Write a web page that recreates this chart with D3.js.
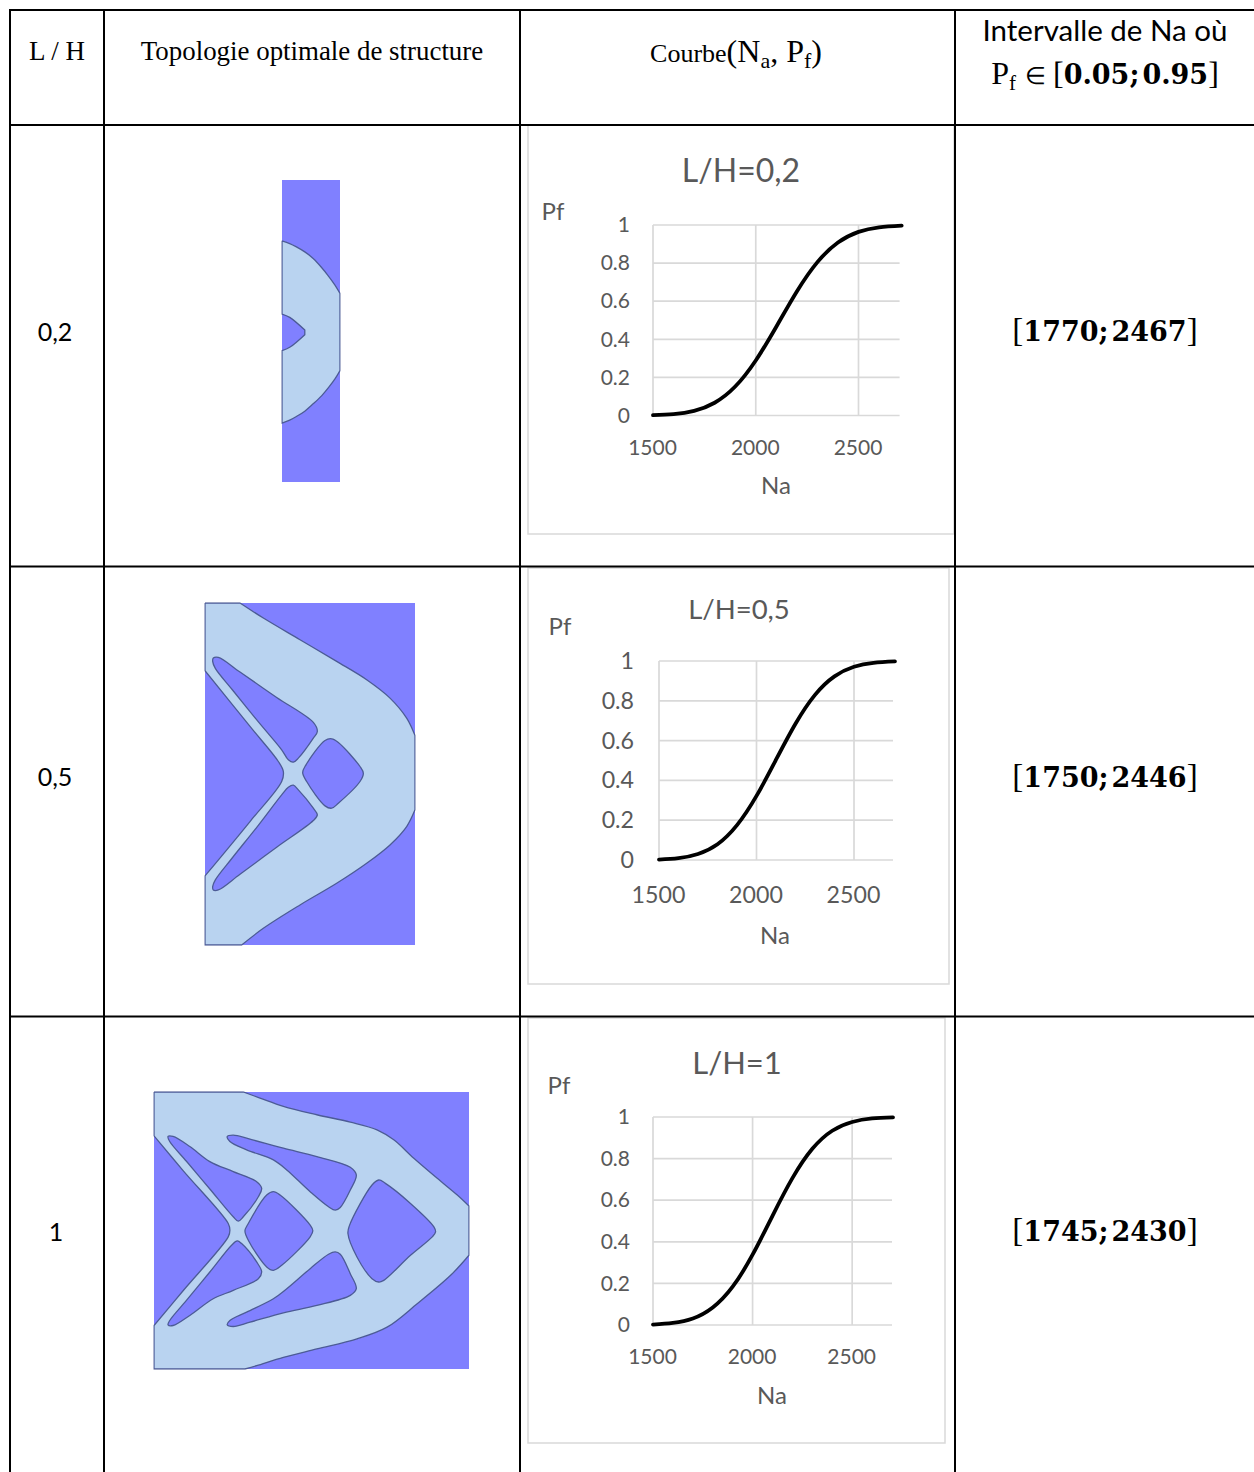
<!DOCTYPE html>
<html><head><meta charset="utf-8">
<script src="https://cdn.jsdelivr.net/npm/d3@7"></script>
<style>html,body{margin:0;padding:0;background:#fff}svg{display:block}</style></head>
<body><div id="c"></div>
<script>
const ratios=["0,2","0,5","1"];
const chartTitles=["L/H=0,2","L/H=0,5","L/H=1"];
const xTicks=[1500,2000,2500];
const yTicks=[0,0.2,0.4,0.6,0.8,1];
const intervalLow=[1770,1750,1745];
const intervalHigh=[2467,2446,2430];
const na1=[1500,1600,1700,1800,1900,2000,2100,2200,2300,2400,2500,2600,2710];
const pf1=[0.002,0.007,0.024,0.067,0.152,0.289,0.466,0.651,0.805,0.908,0.964,0.988,0.997];
const na2=[1500,1600,1700,1800,1900,2000,2100,2200,2300,2400,2500,2600,2710];
const pf2=[0.002,0.009,0.030,0.079,0.175,0.322,0.504,0.685,0.830,0.923,0.971,0.991,0.998];
const na3=[1500,1600,1700,1800,1900,2000,2100,2200,2300,2400,2500,2600,2705];
const pf3=[0.002,0.010,0.031,0.084,0.184,0.338,0.525,0.706,0.847,0.934,0.976,0.993,0.998];

// Structure outlines, each in its own picture coordinates (a repeated point is a sharp corner)
const topo1Solid=[[67,210],[67,210],[90,218],[110,228],[135,243],[160,263],[185,290],[205,315],[225,343],[240,368],[240,368],[240,600],[240,600],[225,625],[205,652],[185,676],[160,700],[135,722],[110,738],[90,749],[67,758],[67,758],[67,540],[67,540],[90,530],[135,492],[135,492],[135,478],[135,478],[90,440],[67,430],[67,430]];
const topo2Solid=[[165,40],[165,40],[270,40],[270,40],[340,85],[450,150],[560,215],[650,270],[720,325],[770,385],[795,437],[795,437],[795,660],[795,660],[770,710],[720,765],[650,820],[560,880],[450,945],[340,1015],[275,1065],[275,1065],[165,1065],[165,1065],[165,858],[165,858],[300,695],[395,575],[400,545],[385,515],[300,410],[165,243],[165,243]];
const topo2Holes=[
 [[190,205],[205,203],[270,247],[380,323],[490,398],[502,425],[490,445],[445,505],[430,517],[415,510],[395,480],[324,395],[247,300],[196,236],[188,215]],
 [[525,452],[545,447],[565,458],[630,530],[640,550],[630,575],[565,640],[545,655],[525,648],[470,575],[458,548],[468,525]],
 [[190,900],[205,900],[270,853],[380,772],[490,692],[502,675],[490,655],[445,600],[430,586],[415,592],[395,615],[322,710],[246,805],[196,870],[188,890]]
];
const topo3Solid=[[13,37],[13,37],[280,37],[280,37],[330,55],[400,80],[500,105],[600,127],[680,150],[730,180],[790,235],[860,295],[920,345],[955,378],[955,378],[955,525],[955,525],[900,585],[800,670],[710,740],[620,775],[500,805],[400,830],[320,855],[285,865],[285,865],[13,865],[13,865],[13,735],[13,735],[100,631],[235,470],[240,450],[235,430],[100,272],[13,168],[13,168]];
const topo3Holes=[
 [[55,170],[70,170],[120,200],[180,245],[250,275],[320,305],[335,325],[325,350],[280,410],[265,423],[250,410],[180,327],[110,244],[60,185]],
 [[55,733],[70,735],[120,705],[190,655],[250,630],[325,595],[335,575],[320,545],[275,490],[262,482],[245,495],[180,575],[110,660],[60,720]],
 [[350,345],[370,335],[390,345],[480,435],[488,452],[480,470],[395,555],[370,570],[350,560],[295,480],[285,452],[295,430]],
 [[232,170],[250,166],[300,178],[400,205],[500,230],[600,262],[618,285],[600,330],[570,382],[555,390],[535,380],[480,335],[410,270],[370,240],[290,210],[240,185]],
 [[232,733],[250,738],[300,725],[400,697],[500,675],[600,645],[618,625],[600,580],[570,522],[555,515],[535,522],[480,565],[410,625],[370,655],[290,695],[240,720]],
 [[665,315],[685,300],[705,310],[780,370],[850,440],[855,455],[845,470],[780,525],[700,600],[685,605],[665,595],[620,530],[593,460],[598,435]]
];

const W=1254,H=1472;
const svg=d3.select("#c").append("svg").attr("width",W).attr("height",H).attr("viewBox",[0,0,W,H]);
const serif="'Liberation Serif',serif", sans="Lato,'Open Sans',sans-serif", mathB="'DejaVu Serif',serif";

// Structures
const DARK="#8080ff",LIGHT="#b9d3f0",EDGE="#4c5b96";
const topoLayouts=[
 {dom:[[67,240],[27,935]],box:[282,340,180,482],solid:topo1Solid,holes:[]},
 {dom:[[165,795],[40,1065]],box:[205,415,603,945],solid:topo2Solid,holes:topo2Holes},
 {dom:[[13,955],[37,865]],box:[154,469,1092,1369],solid:topo3Solid,holes:topo3Holes}
];
topoLayouts.forEach((t,i)=>{
  const sx=d3.scaleLinear().domain(t.dom[0]).range([t.box[0],t.box[1]]);
  const sy=d3.scaleLinear().domain(t.dom[1]).range([t.box[2],t.box[3]]);
  const g=svg.append("g");
  svg.append("clipPath").attr("id","tc"+i).append("rect")
    .attr("x",t.box[0]-0.7).attr("y",t.box[2]-0.7).attr("width",t.box[1]-t.box[0]+1.4).attr("height",t.box[3]-t.box[2]+1.4);
  g.append("rect").attr("x",t.box[0]).attr("y",t.box[2]).attr("width",t.box[1]-t.box[0]).attr("height",t.box[3]-t.box[2]).attr("fill",DARK);
  const gg=g.append("g").attr("clip-path",`url(#tc${i})`);
  const shape=d3.line().x(d=>sx(d[0])).y(d=>sy(d[1])).curve(d3.curveCatmullRomClosed.alpha(0.5));
  gg.append("path").attr("d",shape(t.solid)).attr("fill",LIGHT).attr("stroke",EDGE).attr("stroke-width",1.3);
  gg.selectAll("path.h").data(t.holes).join("path").attr("class","h")
    .attr("d",shape).attr("fill",DARK).attr("stroke",EDGE).attr("stroke-width",1.3);
});

// Charts
const chartLayouts=[
 {frame:[528,125,954,534],x:[653,899.6],y:[415.5,225],title:[741,171,32],pf:[553,212],na:[776,486],tick:21,yr:630,xb:447,dx:-1,na_:na1,pf_:pf1},
 {frame:[528,568,949,984],x:[659,893],y:[860,661],title:[739,609,27.5],pf:[560,627],na:[775,936],tick:23.2,yr:634,xb:895,dx:-1,na_:na2,pf_:pf2},
 {frame:[528,1018,945,1443],x:[653,892],y:[1325,1117],title:[737,1063,31],pf:[559,1086],na:[772,1396],tick:21,yr:630,xb:1356,dx:-1,na_:na3,pf_:pf3}
];
const INK="#595959",GRID="#d9d9d9";
chartLayouts.forEach((c,i)=>{
  const g=svg.append("g").attr("font-family",sans);
  g.append("rect").attr("x",c.frame[0]).attr("y",c.frame[1]).attr("width",c.frame[2]-c.frame[0]).attr("height",c.frame[3]-c.frame[1])
    .attr("fill","#fff").attr("stroke",GRID).attr("stroke-width",1.5);
  const x=d3.scaleLinear().domain([1500,2700]).range(c.x);
  const y=d3.scaleLinear().domain([0,1]).range(c.y);
  const ga=g.append("g");
  ga.selectAll("line.h").data(yTicks).join("line").attr("class","h").attr("x1",c.x[0]).attr("x2",c.x[1]).attr("y1",y).attr("y2",y).attr("stroke",GRID).attr("stroke-width",1.7);
  ga.selectAll("line.v").data(xTicks).join("line").attr("class","v").attr("y1",c.y[0]).attr("y2",c.y[1]).attr("x1",x).attr("x2",x).attr("stroke",GRID).attr("stroke-width",1.7);
  const ay=g.append("g").attr("transform",`translate(${c.yr},0)`).call(d3.axisLeft(y).tickValues(yTicks).tickFormat(d=>String(d)).tickSize(0).tickPadding(0));
  const ax=g.append("g").attr("transform",`translate(${c.dx},${c.xb-c.tick*0.36})`).call(d3.axisBottom(x).tickValues(xTicks).tickFormat(d=>String(d)).tickSize(0).tickPadding(0));
  [ay,ax].forEach(a=>{a.select(".domain").remove();a.selectAll("text").attr("fill",INK).attr("font-size",c.tick).attr("font-family",sans);});
  ax.selectAll("text").attr("dy","0.72em").attr("y",0);
  const line=d3.line().x(d=>x(d)).y((d,k)=>y(c.pf_[k])).curve(d3.curveNatural);
  g.append("path").attr("d",line(c.na_)).attr("fill","none").attr("stroke","#000").attr("stroke-width",3.8).attr("stroke-linecap","round");
  const txt=(s,p,fs)=>g.append("text").attr("x",p[0]).attr("y",p[1]).attr("dy","0.35em").attr("text-anchor","middle").attr("fill",INK).attr("font-size",fs).text(s);
  txt(chartTitles[i],[c.title[0],c.title[1]],c.title[2]);
  txt("Pf",c.pf,24);
  txt("Na",c.na,24);
});

// Table grid
const colX=[10,104,520,955], rowY=[10,125,566.5,1016.5];
const grid=svg.append("g").attr("stroke","#000").attr("stroke-width",2);
grid.selectAll("line.c").data(colX).join("line").attr("class","c").attr("x1",d=>d).attr("x2",d=>d).attr("y1",9).attr("y2",H);
grid.selectAll("line.r").data(rowY).join("line").attr("class","r").attr("x1",9).attr("x2",W).attr("y1",d=>d).attr("y2",d=>d);

// Header and cell text
const T=(s,x,y,fs,fam)=>svg.append("text").attr("x",x).attr("y",y).attr("dy","0.35em").attr("text-anchor","middle")
  .attr("font-family",fam).attr("font-size",fs).attr("fill","#000").text(s);
T("L / H",57,51,27,serif);
T("Topologie optimale de structure",312,51,26.9,serif);
const cb=svg.append("text").attr("x",736).attr("y",62).attr("text-anchor","middle").attr("font-family",serif).attr("font-size",26);
cb.append("tspan").text("Courbe");
cb.append("tspan").attr("font-size",32).text("(N");
cb.append("tspan").attr("font-size",22).attr("dy",6).text("a");
cb.append("tspan").attr("font-size",32).attr("dy",-6).text(", P");
cb.append("tspan").attr("font-size",22).attr("dy",6).text("f");
cb.append("tspan").attr("font-size",32).attr("dy",-6).text(")");
T("Intervalle de Na où",1105,31,29.5,sans);
const hd=svg.append("text").attr("x",1105).attr("y",84).attr("text-anchor","middle").attr("font-family",serif).attr("font-size",32);
hd.append("tspan").text("P");
hd.append("tspan").attr("font-size",21).attr("dy",6).text("f");
hd.append("tspan").attr("dy",-6).attr("dx",3).attr("font-size",24).text(" ∈ ");
hd.append("tspan").attr("dx",1).text("[");
hd.append("tspan").attr("font-weight",700).attr("font-family",mathB).attr("font-size",27).text("0.05;");
hd.append("tspan").attr("font-weight",700).attr("font-family",mathB).attr("font-size",27).attr("dx",3).text("0.95");
hd.append("tspan").text("]");

const rowMid=[332,777,1232], rowX=[55,55,56], intY=[329,775,1229];
ratios.forEach((r,i)=>{
  T(r,rowX[i],rowMid[i],25,sans);
  const t=svg.append("text").attr("x",1105).attr("y",intY[i]).attr("dy","0.35em").attr("text-anchor","middle").attr("font-family",serif).attr("font-size",33);
  t.append("tspan").text("[");
  t.append("tspan").attr("font-weight",700).attr("font-family",mathB).attr("font-size",27).text(intervalLow[i]+";");
  t.append("tspan").attr("font-weight",700).attr("font-family",mathB).attr("font-size",27).attr("dx",3).text(intervalHigh[i]);
  t.append("tspan").text("]");
});
</script></body></html>
